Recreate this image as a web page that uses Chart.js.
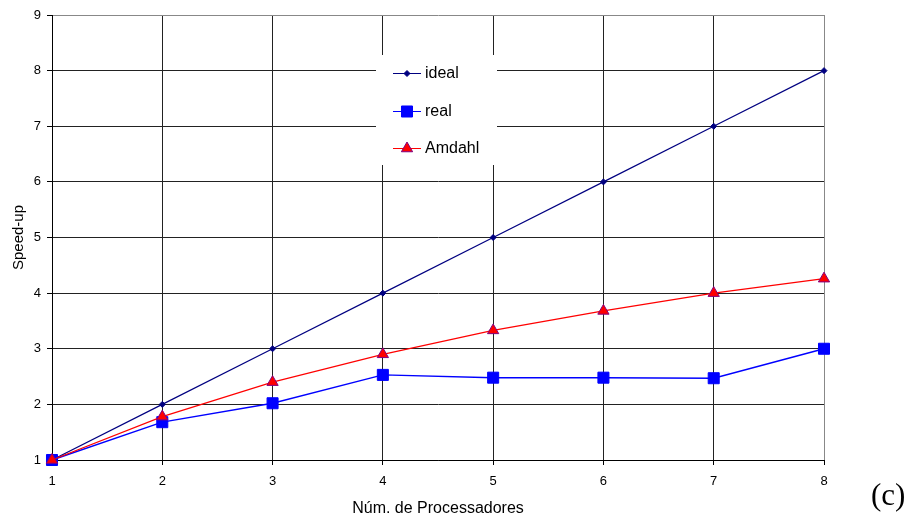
<!DOCTYPE html>
<html><head><meta charset="utf-8">
<script src="https://cdn.jsdelivr.net/npm/chart.js@4"></script>
<style>
html,body{margin:0;padding:0;background:#fff;}
#wrap{position:relative;width:913px;height:519px;overflow:hidden;}
#chart{position:absolute;left:0;top:0;}
#lbl{position:absolute;left:871px;top:478px;font-family:"Liberation Serif","Times New Roman",serif;font-size:31px;line-height:34px;color:#000;}
</style>
</head><body>
<div id="wrap"><canvas id="chart" width="913" height="519"></canvas><div id="lbl">(c)</div></div>
<script>
const processors = [1, 2, 3, 4, 5, 6, 7, 8];
const ideal = [1, 2, 3, 4, 5, 6, 7, 8];
const real = [1, 1.68, 2.02, 2.53, 2.48, 2.48, 2.47, 3.0];
const amdahl = [1, 1.78, 2.40, 2.90, 3.33, 3.68, 4.0, 4.26];
const seriesNames = ['ideal', 'real', 'Amdahl'];
const xTitle = 'Núm. de Processadores';
const yTitle = 'Speed-up';

const pts = arr => processors.map((p, i) => ({x: p, y: arr[i]}));
const FONT = '"Liberation Sans", Arial, sans-serif';

const styles = [
  {line: '#000080', fill: '#000080', border: '#000080', pstyle: 'rectRot', r: 3},
  {line: '#0000FF', fill: '#0000FF', border: '#0000FF', pstyle: 'rect', r: 7.8},
  {line: '#FF0000', fill: '#FF0000', border: '#800080', pstyle: 'triangle', r: 6.5}
];

function drawMarker(ctx, st, x, y) {
  ctx.save();
  ctx.fillStyle = st.fill; ctx.strokeStyle = st.border; ctx.lineWidth = 1;
  ctx.beginPath();
  if (st.pstyle === 'rect') {
    const s = st.r * Math.SQRT1_2;
    ctx.rect(x - s, y - s, 2 * s, 2 * s);
  } else if (st.pstyle === 'rectRot') {
    ctx.moveTo(x, y - st.r); ctx.lineTo(x + st.r, y); ctx.lineTo(x, y + st.r); ctx.lineTo(x - st.r, y); ctx.closePath();
  } else {
    let rad = 0;
    ctx.moveTo(x + Math.sin(rad) * st.r, y - Math.cos(rad) * st.r);
    rad += 2 * Math.PI / 3;
    ctx.lineTo(x + Math.sin(rad) * st.r, y - Math.cos(rad) * st.r);
    rad += 2 * Math.PI / 3;
    ctx.lineTo(x + Math.sin(rad) * st.r, y - Math.cos(rad) * st.r);
    ctx.closePath();
  }
  ctx.fill(); ctx.stroke();
  ctx.restore();
}

const boxLegend = {
  id: 'boxLegend',
  afterDatasetsDraw(chart) {
    const ctx = chart.ctx;
    ctx.save();
    ctx.fillStyle = '#fff';
    ctx.fillRect(376, 55, 121, 110);
    const ys = [73, 111, 148];
    seriesNames.forEach((name, i) => {
      const st = styles[i];
      ctx.strokeStyle = st.line; ctx.lineWidth = 1;
      ctx.beginPath(); ctx.moveTo(393, ys[i] + 0.5); ctx.lineTo(421, ys[i] + 0.5); ctx.stroke();
      drawMarker(ctx, st, 407, ys[i] + 0.5);
      ctx.fillStyle = '#000';
      ctx.font = '16px ' + FONT;
      ctx.textBaseline = 'middle';
      ctx.textAlign = 'left';
      ctx.fillText(name, 425, ys[i] + 1);
    });
    ctx.restore();
  }
};

const datasets = [ideal, real, amdahl].map((arr, i) => ({
  label: seriesNames[i],
  data: pts(arr),
  borderColor: styles[i].line,
  borderWidth: i === 1 ? 1.4 : 1.2,
  backgroundColor: styles[i].fill,
  pointBackgroundColor: styles[i].fill,
  pointBorderColor: styles[i].border,
  pointBorderWidth: 1,
  pointStyle: styles[i].pstyle,
  pointRadius: styles[i].r,
  pointHoverRadius: styles[i].r,
  tension: 0,
  fill: false,
  clip: false,
  order: 2 - i
}));

new Chart(document.getElementById('chart'), {
  type: 'line',
  data: {datasets},
  options: {
    responsive: false,
    animation: false,
    devicePixelRatio: 1,
    layout: {padding: {top: 15, right: 89, left: 0, bottom: 0}},
    plugins: {legend: {display: false}, tooltip: {enabled: false}},
    scales: {
      x: {
        type: 'linear', min: 1, max: 8,
        afterFit(s) { s.height = 59; },
        ticks: {stepSize: 1, color: '#000', font: {family: FONT, size: 13}, padding: 9},
        grid: {color: c => (c.tick && c.tick.value === 8) ? '#888' : '#222', tickColor: '#000', tickLength: 5, lineWidth: 1},
        border: {display: true, color: '#000', width: 1},
        title: {display: true, text: xTitle, color: '#000', font: {family: FONT, size: 16}, padding: {top: 0, bottom: 1}}
      },
      y: {
        type: 'linear', min: 1, max: 9,
        afterFit(s) { s.width = 52; },
        ticks: {stepSize: 1, color: '#000', font: {family: FONT, size: 13}, padding: 6},
        grid: {color: c => (c.tick && c.tick.value === 9) ? '#888' : '#222', tickColor: '#000', tickLength: 5, lineWidth: 1},
        border: {display: true, color: '#000', width: 1},
        title: {display: true, text: yTitle, color: '#000', font: {family: FONT, size: 15}, padding: {top: 10, bottom: 0}}
      }
    }
  },
  plugins: [boxLegend]
});
</script>
</body></html>
